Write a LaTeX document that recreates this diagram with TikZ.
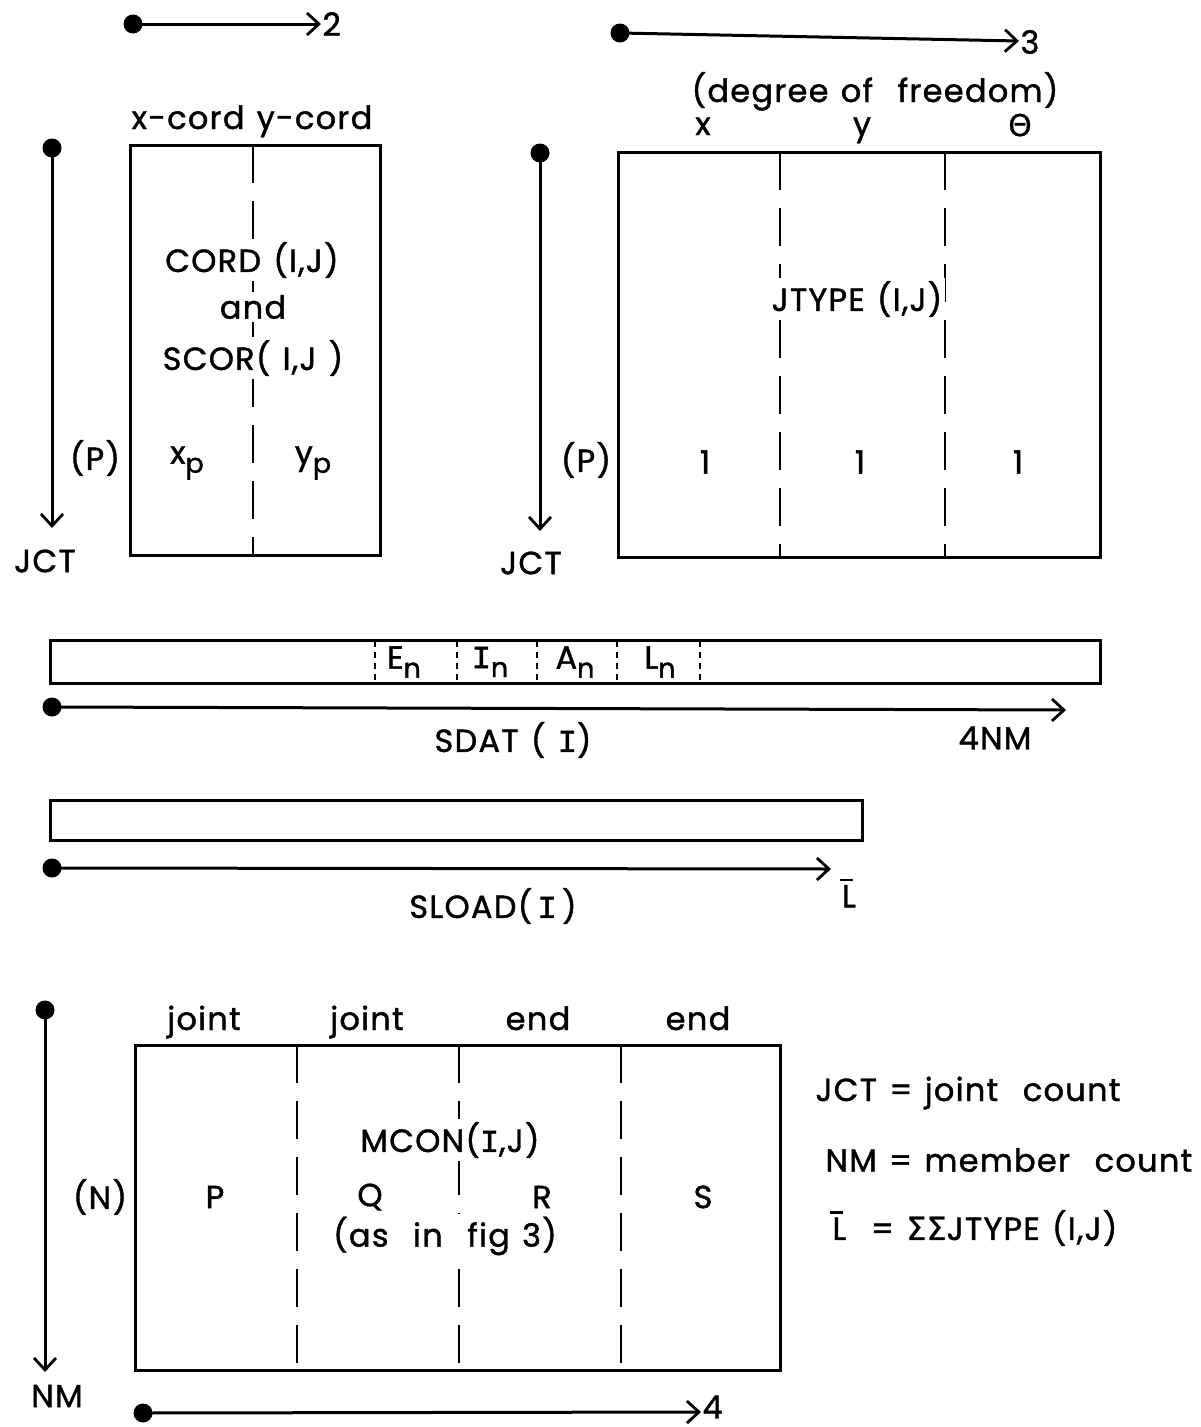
\documentclass[tikz,border=0pt]{standalone}
\usepackage{fontspec}
\setmainfont{Poppins}[FakeBold=1.3,LetterSpace=4,WordSpace=1.25]
\newfontfamily\grk{DejaVu Sans}[FakeBold=0.8]
\newfontfamily\mono{Liberation Mono}[FakeBold=1.5]
\usetikzlibrary{arrows.meta}
\newcommand{\subx}[1]{\raisebox{-0.28em}{\fontsize{27}{27}\selectfont #1}}
\newcommand{\sI}{{\mono I}}
\newcommand{\Lbar}{\leavevmode\rlap{\hspace{-0.08em}\raisebox{0.82em}{\rule{0.42em}{2.4pt}}}L}
\begin{document}
\begin{tikzpicture}[x=1pt,y=-1pt,line width=3pt,
  lbl/.style={font=\fontsize{32}{34}\selectfont,inner sep=1pt},
  wlbl/.style={lbl,fill=white,inner sep=3pt},
  dot/.style={circle,fill=black,inner sep=0pt,minimum size=19pt},
  arr/.style={-{Straight Barb[length=12pt,width=22pt,line width=2.8pt]}},
  divider/.style={line width=2.8pt,dash pattern=on 38pt off 18pt},
  sdiv/.style={line width=1.8pt,dash pattern=on 6pt off 5pt}]
\useasboundingbox (0,0) rectangle (1201,1427);

% ---------- top left: CORD ----------
\node[dot] (d2) at (133,24) {};
\coordinate (e2) at (321,24);
\draw[arr] (d2.center) -- (e2);
\node[lbl,anchor=west] (t2) at (320,24) {2};

\node[lbl,anchor=base] (xy) at (252,129) {x-cord y-cord};
\draw (130,145) rectangle (380,555);
\draw[divider] (253,145) -- (253,555);
\node[wlbl] (cord) at (252,260) {CORD (I,J)};
\node[wlbl] (and) at (253,307) {and};
\node[wlbl] (scor) at (253,358) {SCOR( I,J )};
\node[lbl] (xp) at (187,463) {x\subx{p}};
\node[lbl] (yp) at (313,463) {y\subx{p}};
\node[lbl] (p1) at (95,458) {(P)};

\node[dot] (dj1) at (52,148) {};
\coordinate (ej1) at (52,528);
\draw[arr] (dj1.center) -- (ej1);
\node[lbl] (jct1) at (45,561) {JCT};

% ---------- top right: JTYPE ----------
\node[dot] (d3) at (620,33) {};
\coordinate (e3) at (1019,41);
\draw[arr] (d3.center) -- (e3);
\node[lbl,anchor=west] (t3) at (1018,42) {3};

\node[lbl,anchor=base] (dof) at (875,102) {(degree of \ freedom)};
\node[lbl,anchor=base] (hx) at (703,135) {x};
\node[lbl,anchor=base] (hy) at (862,135) {y};
\node[lbl,anchor=base,font=\fontsize{30}{32}\selectfont] (ht) at (1020,136) {\grk Θ};
\draw (618,152) rectangle (1100,557);
\draw[divider] (780,152) -- (780,557);
\draw[divider] (945,152) -- (945,557);
\node[wlbl] (jtype) at (857,299) {JTYPE (I,J)};
\node[lbl] (p2) at (586,460) {(P)};
\node[lbl] (o1) at (705,462) {1};
\node[lbl] (o2) at (860,462) {1};
\node[lbl] (o3) at (1018,462) {1};

\node[dot] (dj2) at (540,153) {};
\coordinate (ej2) at (540,531);
\draw[arr] (dj2.center) -- (ej2);
\node[lbl] (jct2) at (531,563) {JCT};

% ---------- SDAT ----------
\draw (50,640) rectangle (1100,683);
\foreach \x in {375,457,537,617,700} \draw[sdiv] (\x,641) -- (\x,682);
\node[lbl] (en) at (404,662) {E\subx{n}};
\node[lbl] (in) at (490,662) {\sI\subx{n}};
\node[lbl] (an) at (575,662) {A\subx{n}};
\node[lbl] (ln) at (660,662) {L\subx{n}};

\node[dot] (ds) at (52,707) {};
\coordinate (es) at (1066,710);
\draw[arr] (ds.center) -- (es);
\node[lbl] (sdat) at (513,740) {SDAT ( \sI )};
\node[lbl] (nm4) at (995,738) {4NM};

% ---------- SLOAD ----------
\draw (50,800) rectangle (862,840);
\node[dot] (dl) at (52,868) {};
\coordinate (el) at (831,869);
\draw[arr] (dl.center) -- (el);
\node[lbl] (sload) at (493,906) {SLOAD(\,\sI\,)};
\node[lbl] (lb) at (849,893) {\Lbar};

% ---------- MCON ----------
\node[lbl,anchor=base] (j1) at (204,1030) {joint};
\node[lbl,anchor=base] (j2) at (367,1030) {joint};
\node[lbl,anchor=base] (e1) at (538,1030) {end};
\node[lbl,anchor=base] (e4) at (698,1030) {end};
\draw (135,1045) rectangle (780,1370);
\draw[divider] (297,1045) -- (297,1370);
\draw[divider] (459,1045) -- (459,1370);
\draw[divider] (621,1045) -- (621,1370);
\node[wlbl] (mcon) at (450,1140) {MCON(\sI,J)};
\node[wlbl] (asin) at (445,1236) {(as \ in \ fig 3)};
\node[lbl] (np) at (100,1197) {(N)};
\node[lbl] (cp) at (215,1197) {P};
\node[wlbl,inner sep=1pt] (cq) at (370,1197) {Q};
\node[wlbl,inner sep=1pt] (cr) at (542,1197) {R};
\node[lbl] (cs) at (703,1197) {S};

\node[dot] (dn) at (45,1010) {};
\coordinate (en2) at (45,1372);
\draw[arr] (dn.center) -- (en2);
\node[lbl] (nm) at (57,1396) {NM};

\node[dot] (d4) at (143,1413) {};
\coordinate (e4a) at (701,1412);
\draw[arr] (d4.center) -- (e4a);
\node[lbl,anchor=west] (t4) at (700,1407) {4};

% ---------- legend ----------
\node[lbl,anchor=west] (lg1) at (813,1093) {JCT = joint \ count};
\node[lbl,anchor=west] (lg2) at (823,1160) {NM = member \ count};
\node[lbl,anchor=west] (lg3) at (830,1228) {\Lbar\ \ = {\grk ΣΣ}JTYPE (I,J)};
\end{tikzpicture}
\end{document}
